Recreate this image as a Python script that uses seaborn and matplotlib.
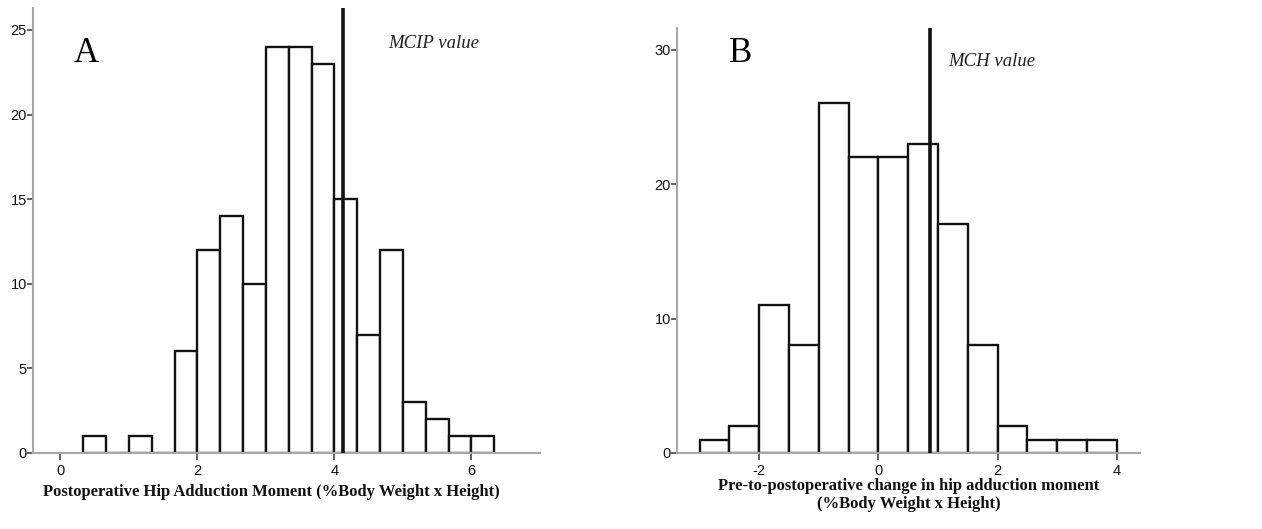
import numpy as np
import pandas as pd
import matplotlib
matplotlib.use("Agg")
import matplotlib.pyplot as plt
import seaborn as sns

# ---- data ----
a_edges = [1/3, 2/3, 1.0, 4/3, 5/3, 2.0, 7/3, 8/3, 3.0, 10/3, 11/3, 4.0, 13/3, 14/3, 5.0, 16/3, 17/3, 6.0, 19/3]
a_counts = [1, 0, 1, 0, 6, 12, 14, 10, 24, 24, 23, 15, 7, 12, 3, 2, 1, 1]
a_mcip = 4.13
a_xticks = [0, 2, 4, 6]
a_yticks = [0, 5, 10, 15, 20, 25]

b_edges = [-3.0, -2.5, -2.0, -1.5, -1.0, -0.5, 0.0, 0.5, 1.0, 1.5, 2.0, 2.5, 3.0, 3.5, 4.0]
b_counts = [1, 2, 11, 8, 26, 22, 22, 23, 17, 8, 2, 1, 1, 1]
b_mch = 0.87
b_xticks = [-2, 0, 2, 4]
b_yticks = [0, 10, 20, 30]

sns.set_theme(style="white")
plt.rcParams['font.family'] = ['Liberation Serif', 'DejaVu Serif']

W, H = 1262, 529
fig = plt.figure(figsize=(W/100, H/100), dpi=100)

def px_axes(l, r, t, b):
    return fig.add_axes([l/W, 1 - b/H, (r-l)/W, (b-t)/H])

ax1 = px_axes(33, 540, 8, 453)
ax2 = px_axes(677, 1140, 28, 453)

def draw(ax, edges, counts, xlim, ylim, xticks, yticks, vline, vlabel, vlabel_xy, letter, letter_xy, xlabel):
    e = np.array(edges)
    centers = (e[:-1] + e[1:]) / 2
    df = pd.DataFrame({"x": centers, "w": counts})
    sns.histplot(data=df, x="x", weights="w", bins=list(edges), ax=ax,
                 color="white", edgecolor="#111111", linewidth=1.7, alpha=1)
    ax.set_xlim(*xlim)
    ax.set_ylim(*ylim)
    ax.axvline(vline, color="#111111", linewidth=2.6, zorder=5)
    ax.text(vlabel_xy[0], vlabel_xy[1], vlabel, fontstyle="italic", fontsize=13.5,
            ha="left", va="center", color="#222222")
    ax.text(letter_xy[0], letter_xy[1], letter, fontsize=25, ha="center", va="center",
            color="black")
    ax.set_xticks(xticks)
    ax.set_yticks(yticks)
    ax.set_xticklabels([str(t) for t in xticks], fontsize=10.5, family="Liberation Sans")
    ax.set_yticklabels([str(t) for t in yticks], fontsize=10.5, family="Liberation Sans")
    for s in ["top", "right"]:
        ax.spines[s].set_visible(False)
    for s in ["left", "bottom"]:
        ax.spines[s].set_color("#a8a8a8")
        ax.spines[s].set_linewidth(1.5)
    ax.tick_params(axis="x", length=5, width=1.2, color="#444444", bottom=True, pad=3,
                   labelcolor="#111111")
    ax.tick_params(axis="y", length=4, width=1.2, color="#444444", left=True, pad=0.5,
                   labelcolor="#111111")
    ax.set_ylabel("")
    ax.set_xlabel(xlabel, fontsize=12, fontweight="bold", labelpad=5, color="#111111")
    ax.set_facecolor("white")

draw(ax1, a_edges, a_counts, (-0.4, 7.0), (0, 26.3), a_xticks, a_yticks, a_mcip,
     "MCIP value", (4.78, 24.2), "A", (0.37, 23.6),
     "Postoperative Hip Adduction Moment (%Body Weight x Height)")
ax1.xaxis.set_label_coords((271 - 33) / (540 - 33), -0.088)
ax1.xaxis.label.set_va("center")

draw(ax2, b_edges, b_counts, (-3.38, 4.39), (0, 31.6), b_xticks, b_yticks, b_mch,
     "MCH value", (1.17, 29.1), "B", (-2.32, 29.7),
     "Pre-to-postoperative change in hip adduction moment\n(%Body Weight x Height)")
ax2.xaxis.label.set_linespacing(1.1)
ax2.xaxis.set_label_coords(0.5, -0.099)
ax2.xaxis.label.set_va("center")

fig.savefig("out.png", dpi=100, facecolor="white")
